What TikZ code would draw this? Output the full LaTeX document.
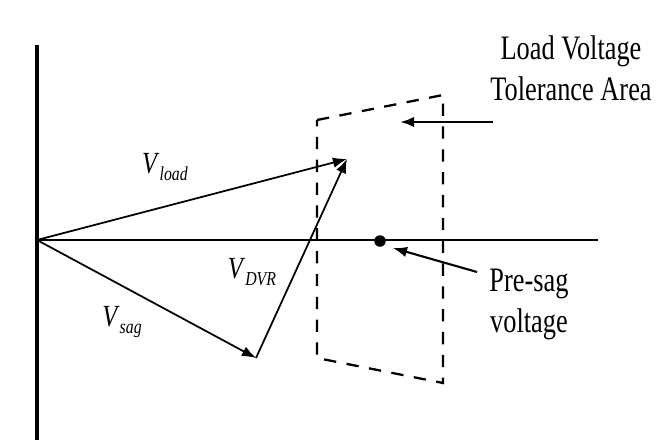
\documentclass[tikz,border=0pt]{standalone}
\usepackage{fontspec}
\usepackage{graphicx}
\setmainfont{Liberation Serif}
\usetikzlibrary{arrows.meta, positioning}

\newcommand\phlabel[1]{\scalebox{1}[1.25]{\textit{V}\raisebox{-.45ex}{\fontsize{9}{9}\selectfont\textit{#1}}}}
\newcommand\tallbox[1]{\scalebox{1}[1.3]{\begin{tabular}{@{}c@{}}#1\end{tabular}}}

\begin{document}
\begin{tikzpicture}[x=0.02cm, y=-0.02cm,
  phasor/.style={-{Latex[length=8pt,width=6pt]},line width=1pt},
  axis/.style={line width=1.1pt},
  bus/.style={line width=2.3pt},
  band/.style={line width=1.3pt,dash pattern=on 7pt off 6pt},
  pointer/.style={-{Latex[length=8pt,width=6pt]},line width=1.2pt},
  lbl/.style={font=\fontsize{15}{18}\selectfont,inner sep=0pt},
  vlbl/.style={font=\fontsize{14}{16}\selectfont,inner sep=0pt}
]
  \useasboundingbox (0,0) rectangle (657,447);
  % phasor points
  \coordinate (O) at (37,240);
  \coordinate (tip) at (347,159);
  \coordinate (sag) at (256,358);
  \coordinate (axend) at (598,240);
  \coordinate (bustop) at (37,45);
  \coordinate (busbot) at (37,440);
  % tolerance area corners
  \coordinate (tl) at (317,120);
  \coordinate (tr) at (443,95);
  \coordinate (br) at (443,383);
  \coordinate (bl) at (317,358);
  \draw[bus] (bustop) -- (busbot);
  \draw[axis] (O) -- (axend);
  \draw[band] (tl) -- (tr) -- (br) -- (bl) -- cycle;
  \node[circle,fill,inner sep=0pt,minimum size=0.23cm](presag) at (380,241) {};
  \draw[phasor] (O) -- (tip);
  \draw[phasor] (O) -- (sag);
  \draw[phasor] (sag) -- (tip);
  \node[vlbl](vload) at (165,167) {\phlabel{load}};
  \node[vlbl](vdvr) at (252,272) {\phlabel{DVR}};
  \node[vlbl](vsag) at (122,322) {\phlabel{sag}};
  \node[lbl](tol) at (571,72) {\tallbox{Load Voltage\\Tolerance Area}};
  \node[lbl](pre) at (529,304) {\tallbox{Pre-sag\\voltage}};
  \coordinate (tolfrom) at (493,122);
  \coordinate (tolto) at (400,122);
  \coordinate (prefrom) at (477,272);
  \coordinate (preto) at (393,248);
  \draw[pointer, line width=1.6pt] (tolfrom) -- (tolto);
  \draw[pointer] (prefrom) -- (preto);
\end{tikzpicture}
\end{document}
